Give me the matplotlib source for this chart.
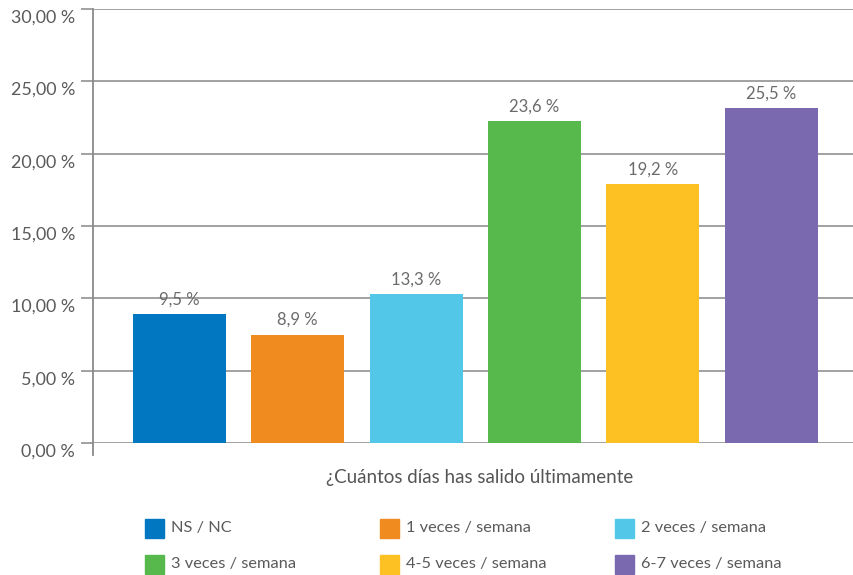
import matplotlib
matplotlib.use("Agg")
import matplotlib.pyplot as plt
import matplotlib.transforms as mtransforms
from matplotlib.patches import Rectangle
import numpy as np

plt.rcParams['font.family'] = ['Lato', 'DejaVu Sans']

# data
categories = ['NS / NC', '1 veces / semana', '2 veces / semana',
              '3 veces / semana', '4-5 veces / semana', '6-7 veces / semana']
heights = [8.9, 7.5, 10.3, 22.25, 17.9, 23.15]
value_labels = ['9,5 %', '8,9 %', '13,3 %', '23,6 %', '19,2 %', '25,5 %']
colors = ['#0077C0', '#EF8B1F', '#52C7E8', '#57B94B', '#FDC123', '#7A69AE']
yticks = [0, 5, 10, 15, 20, 25, 30]
ytick_labels = ['0,00 %', '5,00 %', '10,00 %', '15,00 %', '20,00 %', '25,00 %', '30,00 %']
xlabel = '¿Cuántos días has salido últimamente'

W, H = 854, 575
fig = plt.figure(figsize=(W / 100, H / 100), dpi=100)
ax = fig.add_axes([93 / W, 1 - 443 / H, 1 - 93 / W, (443 - 9) / H])

x = np.arange(len(categories))
ax.bar(x, heights, width=0.785, color=colors, zorder=3)
for xi, h, lab in zip(x, heights, value_labels):
    ax.annotate(lab, (xi, h), xytext=(0, 7), textcoords='offset points',
                ha='center', va='baseline', fontsize=12, color='#6b6b6b')

ax.set_xlim(-0.73, 5.70)
ax.set_ylim(0, 30)
ax.set_yticks(yticks)
ax.set_yticklabels([])
ax.set_xticks([])
ax.yaxis.grid(True, color='#9a9a9a', linewidth=1.3, zorder=0)
ax.tick_params(axis='y', length=8.3, width=1.3, color='#9a9a9a')

# tick labels drawn by hand: they sit a bit under their grid lines in the original
trans = ax.get_yaxis_transform() + mtransforms.ScaledTranslation(
    -18 / 100, -7 / 100, fig.dpi_scale_trans)
for yv, lab in zip(yticks, ytick_labels):
    ax.text(0, yv, lab, transform=trans, ha='right', va='center_baseline',
            fontsize=12.9, color='#5a5a5a', clip_on=False)

for s in ax.spines.values():
    s.set_visible(False)
ax.plot([0, 0], [-0.028, 1], transform=ax.transAxes, color='#8a8a8a',
        linewidth=1.3, clip_on=False)

fig.text(480 / W, 1 - 477 / H, xlabel, ha='center', va='center',
         fontsize=13.5, color='#555555')

# legend, 3 columns x 2 rows
col_x = [145, 380, 615]
row_y = [528, 564]
for i, (cat, c) in enumerate(zip(categories, colors)):
    cx = col_x[i % 3]
    cy = row_y[i // 3]
    fig.add_artist(Rectangle((cx / W, 1 - (cy + 9.5) / H), 19 / W, 19 / H,
                             transform=fig.transFigure, color=c))
    fig.text((cx + 26) / W, 1 - cy / H, cat, ha='left', va='center',
             fontsize=11.8, color='#5a5a5a')

fig.savefig('out.png', dpi=100)
